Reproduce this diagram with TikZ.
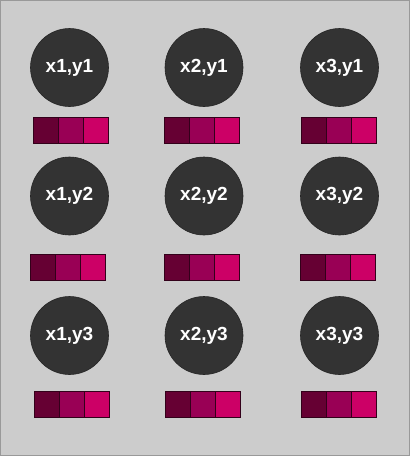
\documentclass[tikz,border=0pt]{standalone}
\usepackage{fontspec}
\setmainfont{Liberation Sans}
\begin{document}
\begin{tikzpicture}[x=1pt,y=-1pt,
  dot/.style={circle,fill=black!80,draw=black!85,line width=0.6pt,minimum size=78pt,inner sep=0pt,text=white,font=\bfseries\fontsize{19}{22}\selectfont},
  cellA/.style={fill=c1,draw=c0,line width=0.6pt},
  cellB/.style={fill=c2,draw=c0,line width=0.6pt},
  cellC/.style={fill=c3,draw=c0,line width=0.6pt}]
\definecolor{c0}{HTML}{33001A}
\definecolor{c1}{HTML}{660033}
\definecolor{c2}{HTML}{990055}
\definecolor{c3}{HTML}{CC0066}
\definecolor{bg}{HTML}{CCCCCC}
\useasboundingbox (0,0) rectangle (411,459);
\fill[white] (0,0) rectangle (411,459);
\draw[fill=bg,draw=black!40,line width=0.8pt] (0.4,0.4) rectangle (409.5,455.5);
\node[dot] (n11) at (69.5,67.5) {x1,y1};
\node[dot] (n21) at (204,67.5) {x2,y1};
\node[dot] (n31) at (339.5,67.5) {x3,y1};
\node[dot] (n12) at (69.5,196) {x1,y2};
\node[dot] (n22) at (204,196) {x2,y2};
\node[dot] (n32) at (339.5,196) {x3,y2};
\node[dot] (n13) at (69.5,335.5) {x1,y3};
\node[dot] (n23) at (204,335.5) {x2,y3};
\node[dot] (n33) at (339.5,335.5) {x3,y3};
\foreach \x/\y in {33/117,164/117,301/117,30/254,164/254,300/254,34/391,165/391,301/391}{
  \draw[cellA] (\x,\y) rectangle ++(25,26.5);
  \draw[cellB] (\x+25,\y) rectangle ++(25,26.5);
  \draw[cellC] (\x+50,\y) rectangle ++(25,26.5);
}
\end{tikzpicture}
\end{document}
